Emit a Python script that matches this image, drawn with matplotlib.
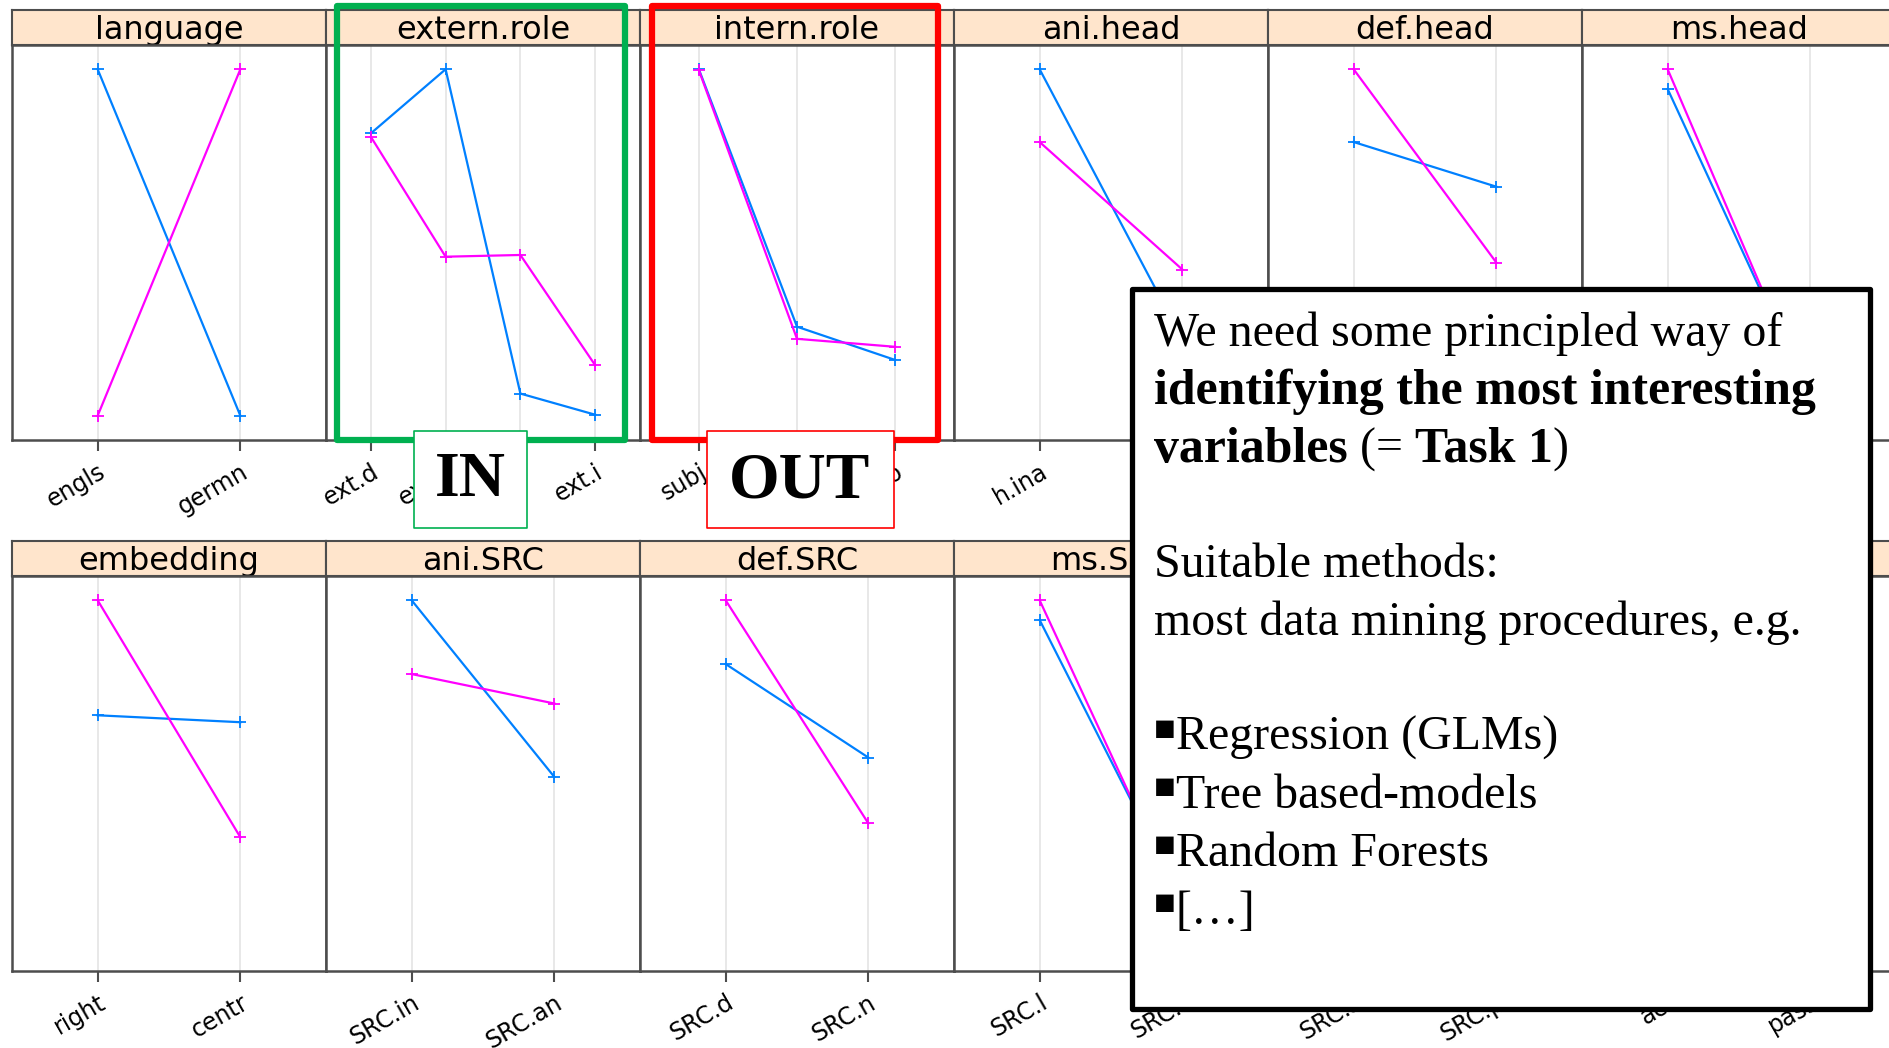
import matplotlib
matplotlib.use("Agg")
import matplotlib.pyplot as plt
from matplotlib.patches import Rectangle

# panel data (proportion scale, shared y axis)
top_panels = ["language", "extern.role", "intern.role", "ani.head", "def.head", "ms.head"]
top_levels = [["engls", "germn"], ["ext.d", "ext.a", "ext.o", "ext.i"], ["subj", "obj", "indo"],
              ["h.ina", "h.an"], ["h.d", "h.n"], ["h.l", "h.r"]]
top_blue = [[100, 0], [81.5, 100, 6.4, 0.3], [100, 25.7, 16.1], [100, 22], [79, 66.1], [94.3, 5]]
top_magenta = [[0, 100], [80.5, 45.9, 46.4, 14.6], [99.7, 22.2, 19.9], [79, 42.2], [100, 44.2], [100, 4]]

bottom_panels = ["embedding", "ani.SRC", "def.SRC", "ms.SRC", "num.SRC", "voice"]
bottom_levels = [["right", "centr"], ["SRC.in", "SRC.an"], ["SRC.d", "SRC.n"],
                 ["SRC.l", "SRC.r"], ["SRC.s", "SRC.p"], ["act", "pass"]]
bottom_blue = [[66.8, 64.8], [100, 49], [81.6, 54.6], [94.3, 13], [60, 45], [70, 40]]
bottom_magenta = [[100, 31.6], [78.7, 70.2], [100, 35.6], [100, 11], [55, 50], [65, 48]]

BLUE = "#0080ff"
MAGENTA = "#ff00ff"
STRIP = "#ffe5cc"
FRAME = "#4d4d4d"

W, H = 1889, 1048
fig = plt.figure(figsize=(W / 100, H / 100), dpi=100)


def rect(x0, y0, x1, y1):
    return [x0 / W, 1 - y1 / H, (x1 - x0) / W, (y1 - y0) / H]


def draw_row(names, levels, blue, magenta, strip_top, strip_bot, panel_bot):
    for i, name in enumerate(names):
        x0 = 12 + 314 * i
        x1 = x0 + 314
        sax = fig.add_axes(rect(x0, strip_top, x1, strip_bot))
        sax.set_facecolor(STRIP)
        sax.set_xticks([])
        sax.set_yticks([])
        for s in sax.spines.values():
            s.set_color(FRAME)
            s.set_linewidth(1.5)
        sax.text(0.5, 0.42, name, ha="center", va="center", fontsize=23, transform=sax.transAxes)

        ax = fig.add_axes(rect(x0, strip_bot, x1, panel_bot))
        n = len(levels[i])
        pos = list(range(1, n + 1))
        for p in pos:
            ax.axvline(p, color="#e6e6e6", lw=1.3, zorder=0)
        ax.plot(pos, blue[i], color=BLUE, lw=1.6, marker="+", ms=9, mew=1.3)
        ax.plot(pos, magenta[i], color=MAGENTA, lw=1.6, marker="+", ms=9, mew=1.3)
        ax.set_xlim(0.4, n + 0.6)
        ax.set_ylim(-7, 107)
        ax.set_yticks([])
        ax.set_xticks(pos)
        ax.set_xticklabels(levels[i], rotation=30, ha="right", rotation_mode="anchor", fontsize=17)
        ax.tick_params(axis="x", length=8, width=1.5, color=FRAME, pad=6)
        for s in ax.spines.values():
            s.set_color(FRAME)
            s.set_linewidth(1.8)


draw_row(top_panels, top_levels, top_blue, top_magenta, 10, 45, 440)
draw_row(bottom_panels, bottom_levels, bottom_blue, bottom_magenta, 541, 576, 971)


def frame(x0, y0, x1, y1, color, lw, fill=False):
    r = Rectangle((x0 / W, 1 - y1 / H), (x1 - x0) / W, (y1 - y0) / H, transform=fig.transFigure,
                  facecolor="white" if fill else "none", edgecolor=color, lw=lw, zorder=5,
                  joinstyle="round")
    fig.add_artist(r)


# IN / OUT highlights
frame(337, 6, 625, 440, "#00b050", 4.5)
frame(652, 6, 938, 440, "#ff0000", 4.5)
frame(414, 431, 527, 528, "#00b050", 1.2, fill=True)
frame(707, 431, 894, 528, "#ff0000", 1.2, fill=True)
fig.text(470 / W, 1 - 481 / H, "IN", ha="center", va="center", fontsize=46, fontweight="bold",
         family="Liberation Serif", zorder=6)
fig.text(800 / W, 1 - 481 / H, "OUT", ha="center", va="center", fontsize=47, fontweight="bold",
         family="Liberation Serif", zorder=6)

# text box
frame(1132, 289, 1870, 1009, "black", 3.8, fill=True)

serif = ["Liberation Serif", "DejaVu Sans"]
tx = 1154
# (text, weight, size, raise in px)
lines = [
    (346, [("We need some principled way of", "normal", 34.5, 0)]),
    (404, [("identifying the most interesting", "bold", 35.8, 0)]),
    (462, [("variables", "bold", 35.8, 0), (" (= ", "normal", 34.5, 0), ("Task 1", "bold", 35.8, 0),
           (")", "normal", 34.5, 0)]),
    (577, [("Suitable methods:", "normal", 34.5, 0)]),
    (635, [("most data mining procedures, e.g.", "normal", 34.5, 0)]),
    (750, [("\u25a0", "normal", 26, 10), ("Regression (GLMs)", "normal", 34.5, 0)]),
    (808, [("\u25a0", "normal", 26, 10), ("Tree based-models", "normal", 34.5, 0)]),
    (866, [("\u25a0", "normal", 26, 10), ("Random Forests", "normal", 34.5, 0)]),
    (924, [("\u25a0", "normal", 26, 10), ("[\u2026]", "normal", 34.5, 0)]),
]
renderer = fig.canvas.get_renderer()
for yb, parts in lines:
    x = tx
    for s, wgt, size, up in parts:
        t = fig.text(x / W, 1 - (yb - up) / H, s, ha="left", va="baseline", fontsize=size,
                     fontweight=wgt, family=serif, zorder=6)
        x += t.get_window_extent(renderer).width

fig.savefig("out.png", dpi=100)
